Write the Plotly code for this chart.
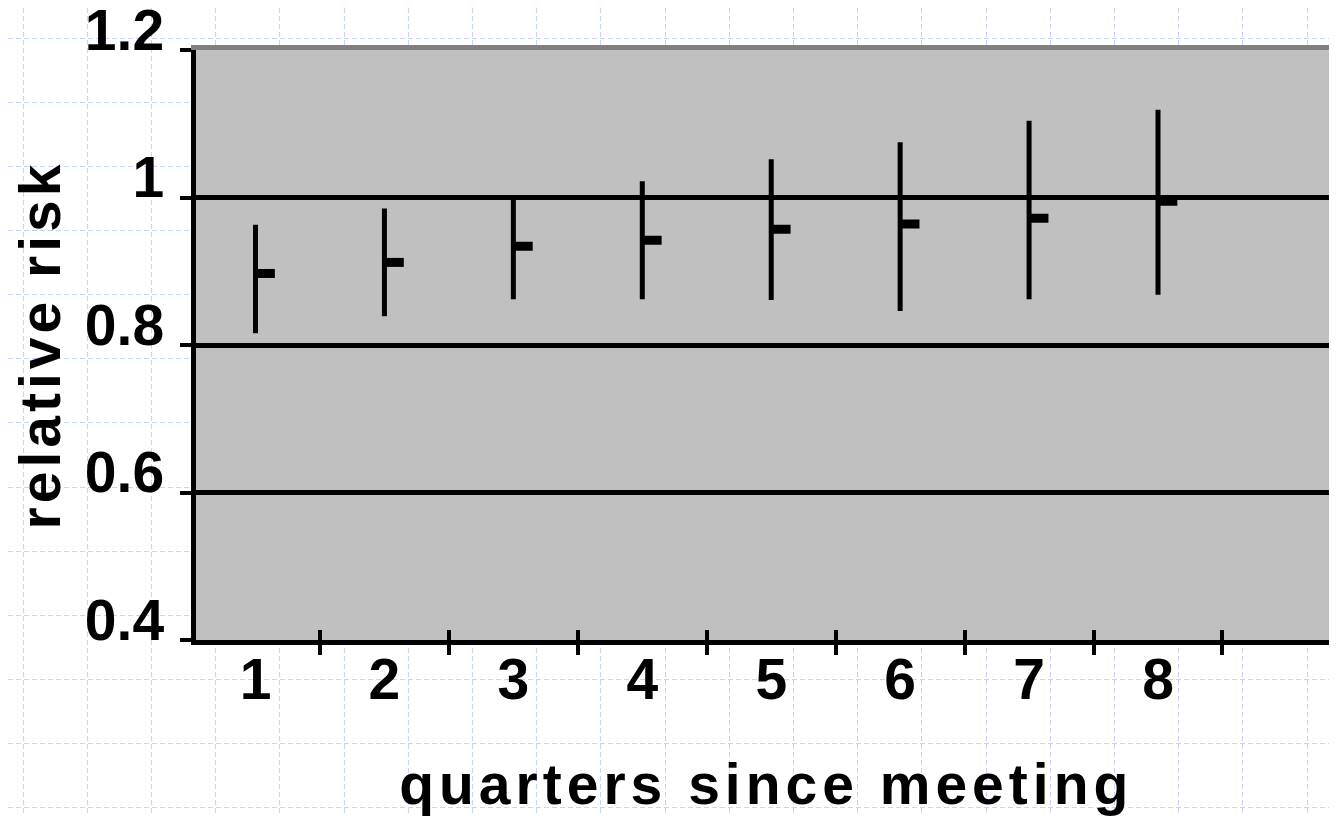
import plotly.graph_objects as go

# ---- data ----
quarters = [1, 2, 3, 4, 5, 6, 7, 8]
quarter_labels = ["1", "2", "3", "4", "5", "6", "7", "8"]
rr_close = [0.897, 0.912, 0.934, 0.942, 0.957, 0.964, 0.972, 0.995]
rr_high = [0.963, 0.985, 1.001, 1.022, 1.052, 1.075, 1.104, 1.119]
rr_low = [0.816, 0.839, 0.862, 0.862, 0.861, 0.846, 0.862, 0.868]
y_tick_vals = [0.4, 0.6, 0.8, 1.0, 1.2]
y_tick_text = ["0.4", "0.6", "0.8", "1", "1.2"]
y_grid_vals = [0.6, 0.8, 1.0]
x_title = "quarters since meeting"
y_title = "relative risk"

# ---- layout geometry / styles ----
W, H = 1329, 808          # page body adds an 8px offset
PX_LEFT, PX_TOP, PX_BOTTOM = 187.5, 42, 632
PITCH = 128.93
X0 = 0.5346
x_range = [X0, X0 + (W - PX_LEFT) / PITCH]
y_range = [0.4, 1.2]
boundaries = [q - 0.5 for q in quarters] + [quarters[-1] + 0.5]
dom_x = [PX_LEFT / W, 1]
dom_y = [1 - PX_BOTTOM / H, 1 - PX_TOP / H]
FONT = "Liberation Sans, Arial, sans-serif"
FS = 57
CLOSE_TICK = 0.15
PAPER_GRID = "#c9d3f3"
PLOT_FILL = "#c0c0c0"

fig = go.Figure()

# background graph-paper subplot (empty)
fig.add_trace(go.Scatter(x=[], y=[], xaxis="x", yaxis="y", showlegend=False, hoverinfo="skip"))
# empty traces so that overlay axes get drawn
fig.add_trace(go.Scatter(x=[], y=[], xaxis="x3", yaxis="y2", showlegend=False, hoverinfo="skip"))
fig.add_trace(go.Scatter(x=[], y=[], xaxis="x4", yaxis="y2", showlegend=False, hoverinfo="skip"))
fig.add_trace(go.Scatter(x=[], y=[], xaxis="x2", yaxis="y3", showlegend=False, hoverinfo="skip"))

# high-low-close marks
fig.add_trace(go.Scatter(
    x=quarters, y=rr_close, xaxis="x2", yaxis="y2", mode="markers",
    marker=dict(size=1, color="rgba(0,0,0,0)"),
    error_y=dict(type="data", symmetric=False,
                 array=[h - c for h, c in zip(rr_high, rr_close)],
                 arrayminus=[c - l for c, l in zip(rr_close, rr_low)],
                 color="black", thickness=5, width=0),
    error_x=dict(type="data", symmetric=False,
                 array=[CLOSE_TICK] * len(quarters),
                 arrayminus=[0] * len(quarters),
                 color="black", thickness=9, width=0),
    showlegend=False, hoverinfo="skip"))

fig.update_layout(
    width=W, height=H,
    margin=dict(l=0, r=0, t=0, b=0),
    paper_bgcolor="white", plot_bgcolor="white",
    showlegend=False,
    font=dict(family=FONT, size=FS, color="black", weight="bold"),
    xaxis=dict(domain=[0, 1], range=[8, W + 8], anchor="y", showgrid=True,
               gridcolor=PAPER_GRID, griddash="5px,3px", gridwidth=1,
               tick0=23, dtick=64.2, showticklabels=False, ticks="",
               zeroline=False, showline=False, fixedrange=True),
    yaxis=dict(domain=[0, 1], range=[H + 8, 8], anchor="x", showgrid=True,
               gridcolor=PAPER_GRID, griddash="5px,3px", gridwidth=1,
               tick0=38, dtick=64.15, showticklabels=False, ticks="",
               zeroline=False, showline=False, fixedrange=True),
    xaxis2=dict(domain=dom_x, range=x_range, anchor="y2",
                tickmode="array", tickvals=quarters, ticktext=quarter_labels,
                ticks="", ticklabelstandoff=-14, ticklabeloverflow="allow",
                minor=dict(tickmode="array", tickvals=boundaries, ticks="outside",
                           ticklen=10, tickwidth=4, tickcolor="black"),
                showline=True, linecolor="black", linewidth=5,
                showgrid=False, zeroline=False,
                tickfont=dict(family=FONT, size=FS, weight="bold"),
                title=dict(text=f"<span style='letter-spacing:5px'>{x_title}</span>",
                           font=dict(family=FONT, size=FS, weight="bold"),
                           standoff=70),
                automargin=False),
    xaxis3=dict(overlaying="x2", anchor="y2", range=x_range,
                tickmode="array", tickvals=boundaries, ticks="inside",
                ticklen=10, tickwidth=4, tickcolor="black",
                showticklabels=False, showline=False, showgrid=False, zeroline=False),
    xaxis4=dict(overlaying="x2", anchor="y2", side="top", range=x_range,
                showline=True, linecolor="#808080", linewidth=5, ticks="",
                showticklabels=False, showgrid=False, zeroline=False),
    yaxis2=dict(domain=dom_y, range=y_range, anchor="x2",
                tickmode="array", tickvals=y_tick_vals, ticktext=y_tick_text,
                ticks="outside", ticklen=11, tickwidth=4, tickcolor="black",
                ticklabelstandoff=4, ticklabelshift=-20, ticklabeloverflow="allow",
                showline=True, linecolor="black", linewidth=5,
                showgrid=False, zeroline=False,
                tickfont=dict(family=FONT, size=FS, weight="bold"),
                title=dict(text=f"<span style='letter-spacing:4px'>{y_title}</span>",
                           font=dict(family=FONT, size=FS, weight="bold"),
                           standoff=34),
                automargin=False),
    yaxis3=dict(overlaying="y2", anchor="x2", range=y_range,
                tickmode="array", tickvals=y_grid_vals, ticks="inside",
                ticklen=10, tickwidth=4, tickcolor="black",
                showgrid=True, gridcolor="black", gridwidth=5,
                showticklabels=False, showline=False, zeroline=False),
    shapes=[dict(type="rect", xref="x2", yref="y2",
                 x0=x_range[0], x1=x_range[1], y0=y_range[0], y1=y_range[1],
                 fillcolor=PLOT_FILL, line=dict(width=0), layer="below")],
)

fig.write_html("out.html")
